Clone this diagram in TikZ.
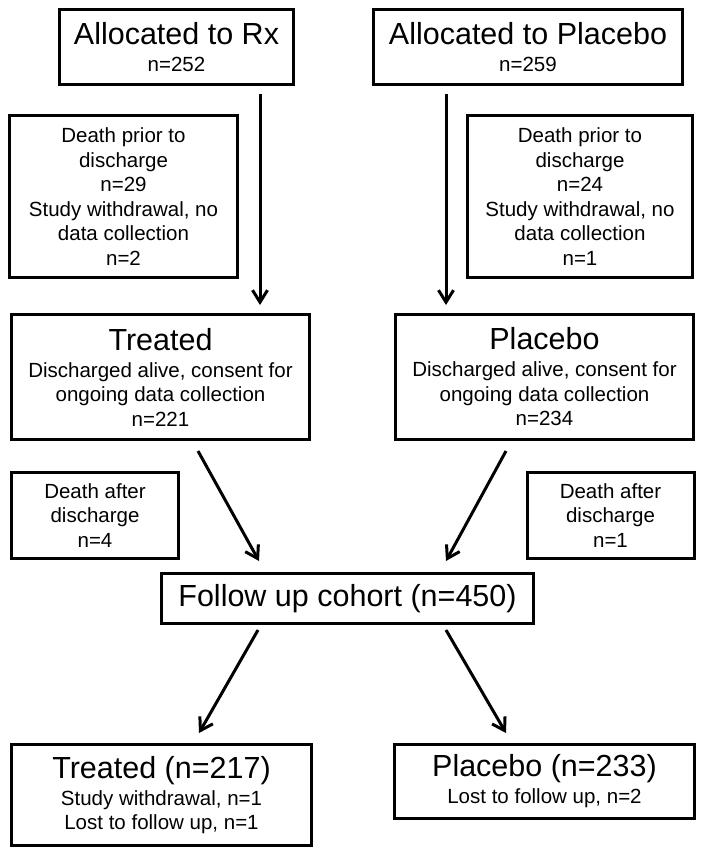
\documentclass[tikz,border=0pt]{standalone}
\usepackage{fontspec}
\setmainfont{Liberation Sans}
\usetikzlibrary{arrows.meta,calc}
\newcommand{\headtxt}{\fontsize{30.5}{30}\selectfont}
\begin{document}
\begin{tikzpicture}[x=1pt,y=-1pt,
	box/.style={draw=black,line width=3pt,inner sep=0pt,align=center,font=\fontsize{20.5}{24.5}\selectfont},
	flow/.style={line width=3pt,-{Straight Barb[length=12pt,width=15pt]}}]
	\useasboundingbox (0,0) rectangle (704,855);
	\node [box,minimum width=234,minimum height=75] (rx) at (176.5,47) {{\headtxt Allocated to Rx}\\[2.5pt]n=252};
	\node [box,minimum width=309,minimum height=75] (pl) at (528,47) {{\headtxt Allocated to Placebo}\\[2.5pt]n=259};
	\node [box,minimum width=228,minimum height=162] (exrx) at (123.5,196.5) {Death prior to\\discharge\\n=29\\Study withdrawal, no\\data collection\\n=2};
	\node [box,minimum width=225,minimum height=162] (expl) at (580,196.5) {Death prior to\\discharge\\n=24\\Study withdrawal, no\\data collection\\n=1};
	\node [box,minimum width=298,minimum height=125] (treat) at (160.5,377) {{\headtxt Treated}\\[2.5pt]Discharged alive, consent for\\ongoing data collection\\n=221};
	\node [box,minimum width=298,minimum height=125] (plac) at (544.5,377) {{\headtxt Placebo}\\[2.5pt]Discharged alive, consent for\\ongoing data collection\\n=234};
	\node [box,minimum width=167,minimum height=86] (dtreat) at (95,515.5) {Death after\\discharge\\n=4};
	\node [box,minimum width=167,minimum height=86] (dplac) at (610.5,515.5) {Death after\\discharge\\n=1};
	\node [box,minimum width=372,minimum height=50] (fu) at (347.5,598.5) {\headtxt Follow up cohort (n=450)};
	\node [box,minimum width=300,minimum height=101] (ftreat) at (161.5,795) {{\headtxt Treated (n=217)}\\[2.5pt]Study withdrawal, n=1\\Lost to follow up, n=1};
	\node [box,minimum width=300,minimum height=74] (fplac) at (544.5,781.5) {{\headtxt Placebo (n=233)}\\[2.5pt]Lost to follow up, n=2};
	\draw [flow] ($(rx.south)+(83.5,8)$) -- ($(treat.north)+(99.5,-8)$);
	\draw [flow] ($(pl.south)+(-82,8)$) -- ($(plac.north)+(-98.5,-8)$);
	\draw [flow] ($(treat.south)+(37.5,10)$) -- ($(fu.north)+(-88.5,-11)$);
	\draw [flow] ($(plac.south)+(-38.5,10)$) -- ($(fu.north)+(98.5,-11)$);
	\draw [flow] ($(fu.south)+(-89.5,5)$) -- ($(ftreat.north)+(37.5,-10)$);
	\draw [flow] ($(fu.south)+(98.5,5)$) -- ($(fplac.north)+(-38.5,-10)$);
\end{tikzpicture}
\end{document}
